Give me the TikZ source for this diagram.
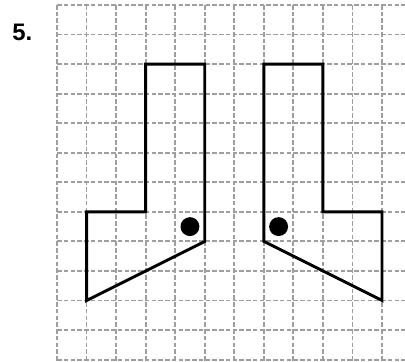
\documentclass[tikz,border=0pt]{standalone}
\usepackage{fontspec}
\setmainfont{Liberation Sans}
\begin{document}
\begin{tikzpicture}[x=1cm,y=1cm,
  gridline/.style={draw=black!38, line width=1.8pt, dash pattern=on 4.5pt off 2pt},
  shapeline/.style={draw=black, line width=2.8pt, line join=miter},
  dotmark/.style={fill=black}]
\useasboundingbox (-1.929,0.169) rectangle (11.777,-12.081);
% grid
\foreach \i in {0,...,11} \draw[gridline] (\i,0) -- (\i,-12.081);
\foreach \j in {0,...,12} \draw[gridline] (0,-\j) -- (11.777,-\j);
% label
\node[font=\fontsize{23}{27}\selectfont\bfseries, text=black] (num) at (-1.17,-0.93) {5.};
% left figure
\draw[shapeline] (3,-2) -- (5,-2) -- (5,-8) -- (1,-10) -- (1,-7) -- (3,-7) -- cycle;
\fill[dotmark] (4.5,-7.5) circle (0.32);
% right figure
\draw[shapeline] (7,-2) -- (9,-2) -- (9,-7) -- (11,-7) -- (11,-10) -- (7,-8) -- cycle;
\fill[dotmark] (7.5,-7.5) circle (0.32);
\end{tikzpicture}
\end{document}
